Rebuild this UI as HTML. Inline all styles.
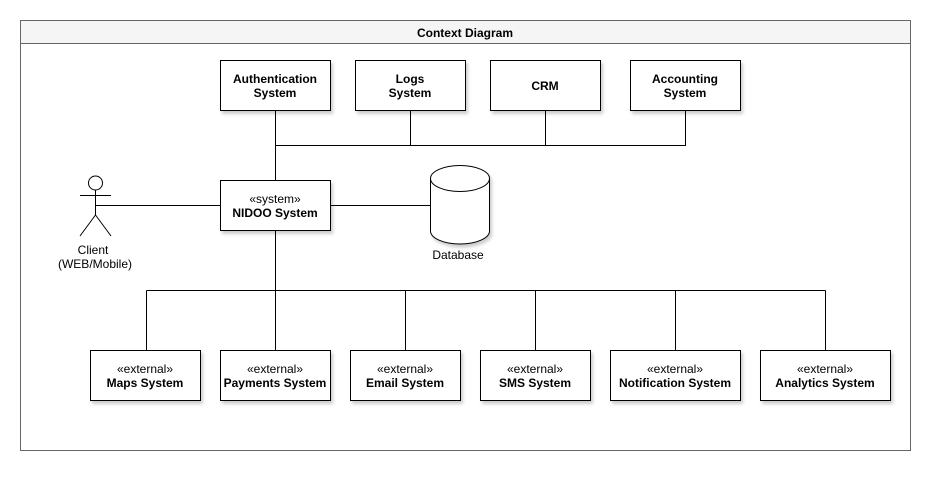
<!DOCTYPE html>
<html><head><meta charset="utf-8"><style>
html,body{margin:0;padding:0;background:#fff;}
svg text{font-family:"Liberation Sans",Arial,sans-serif;font-size:12px;fill:#000;}
.b{font-weight:bold;}
</style></head><body>
<svg width="937" height="477" viewBox="0 0 937 477" xmlns="http://www.w3.org/2000/svg">
<defs><filter id="sh" x="-10%" y="-10%" width="130%" height="140%"><feDropShadow dx="2" dy="3" stdDeviation="1.5" flood-color="#000" flood-opacity="0.2"/></filter></defs>
<rect x="20.5" y="20.5" width="890" height="430" fill="#fff" stroke="#666"/>
<rect x="20.5" y="20.5" width="890" height="23" fill="#f5f5f5" stroke="#666"/>
<text x="465" y="37" text-anchor="middle" class="b">Context Diagram</text>
<g stroke="#000" fill="none" stroke-width="1">
<path d="M275.5 110V180M410.5 110V145.5M545.5 110V145.5M685.5 110V145.5M275 145.5H686"/>
<path d="M95 205.5H220M330 205.5H430"/>
<path d="M275.5 230V350M146.5 290.5H825.5M146.5 290.5V350M405.5 290.5V350M535.5 290.5V350M675.5 290.5V350M825.5 290.5V350"/>
<circle cx="95.5" cy="183" r="7" fill="#fff"/>
<path d="M95.5 190V215M80 195.5H111M95.5 215L80 236M95.5 215L111 236"/>
</g>
<g stroke="#000" fill="#fff" filter="url(#sh)">
<rect x="220.5" y="60.5" width="110" height="50"/>
<rect x="355.5" y="60.5" width="110" height="50"/>
<rect x="490.5" y="60.5" width="110" height="50"/>
<rect x="630.5" y="60.5" width="110" height="50"/>
<rect x="220.5" y="180.5" width="110" height="50"/>
<path d="M430.5 178.5A29.5 13 0 0 1 489.5 178.5V231A29.5 13 0 0 1 430.5 231Z"/>
<rect x="90.5" y="350.5" width="110" height="50"/>
<rect x="220.5" y="350.5" width="110" height="50"/>
<rect x="350.5" y="350.5" width="110" height="50"/>
<rect x="480.5" y="350.5" width="110" height="50"/>
<rect x="610.5" y="350.5" width="130" height="50"/>
<rect x="760.5" y="350.5" width="130" height="50"/>
</g>
<path d="M430.5 178.5A29.5 13 0 0 0 489.5 178.5" stroke="#000" fill="none"/>
<g text-anchor="middle">
<text x="275" y="83" class="b">Authentication</text><text x="275" y="97" class="b">System</text>
<text x="410" y="83" class="b">Logs</text><text x="410" y="97" class="b">System</text>
<text x="545" y="90" class="b">CRM</text>
<text x="685" y="83" class="b">Accounting</text><text x="685" y="97" class="b">System</text>
<text x="275" y="203">«system»</text><text x="275" y="217" class="b">NIDOO System</text>
<text x="93" y="254">Client</text><text x="95" y="268">(WEB/Mobile)</text>
<text x="458" y="259">Database</text>
<text x="145" y="373">«external»</text><text x="145" y="387" class="b">Maps System</text>
<text x="275" y="373">«external»</text><text x="275" y="387" class="b">Payments System</text>
<text x="405" y="373">«external»</text><text x="405" y="387" class="b">Email System</text>
<text x="535" y="373">«external»</text><text x="535" y="387" class="b">SMS System</text>
<text x="675" y="373">«external»</text><text x="675" y="387" class="b">Notification System</text>
<text x="825" y="373">«external»</text><text x="825" y="387" class="b">Analytics System</text>
</g>
</svg>
</body></html>
